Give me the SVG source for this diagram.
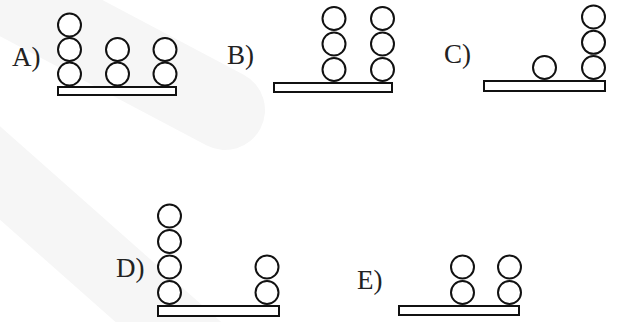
<svg xmlns="http://www.w3.org/2000/svg" width="623" height="322" viewBox="0 0 623 322">
<style>
.ball{fill:#ffffff;stroke:#111;stroke-width:2}
.bar{fill:#ffffff;stroke:#111;stroke-width:2}
.lbl{font-family:"Liberation Serif",serif;font-size:27px;fill:#222}
.wm{fill:none;stroke:#f6f6f6;stroke-linecap:round}
</style>
<rect width="623" height="322" fill="#ffffff"/>
<g id="watermark">
<line class="wm" x1="-40" y1="-30" x2="225" y2="110" stroke-width="80"/>
<line class="wm" x1="-60" y1="120" x2="200" y2="350" stroke-width="70"/>
</g>
<g id="A">
<text class="lbl" x="12" y="66">A)</text>
<rect class="bar" x="58" y="87" width="118" height="8"/>
<circle class="ball" cx="69.5" cy="25" r="11.5"/>
<circle class="ball" cx="69.5" cy="49.5" r="11.5"/>
<circle class="ball" cx="69.5" cy="74" r="11.5"/>
<circle class="ball" cx="117.5" cy="49.5" r="11.5"/>
<circle class="ball" cx="117.5" cy="74" r="11.5"/>
<circle class="ball" cx="165" cy="49.5" r="11.5"/>
<circle class="ball" cx="165" cy="74" r="11.5"/>
</g>
<g id="B">
<text class="lbl" x="227" y="64">B)</text>
<rect class="bar" x="274" y="83" width="118" height="9"/>
<circle class="ball" cx="334" cy="18.5" r="11.5"/>
<circle class="ball" cx="334" cy="44" r="11.5"/>
<circle class="ball" cx="334" cy="69.5" r="11.5"/>
<circle class="ball" cx="382.5" cy="18.5" r="11.5"/>
<circle class="ball" cx="382.5" cy="44" r="11.5"/>
<circle class="ball" cx="382.5" cy="69.5" r="11.5"/>
</g>
<g id="C">
<text class="lbl" x="444" y="63">C)</text>
<rect class="bar" x="484" y="81" width="121" height="10"/>
<circle class="ball" cx="544.5" cy="67.5" r="11.5"/>
<circle class="ball" cx="593.5" cy="17" r="11.5"/>
<circle class="ball" cx="593.5" cy="42.3" r="11.5"/>
<circle class="ball" cx="593.5" cy="67.5" r="11.5"/>
</g>
<g id="D">
<text class="lbl" x="116" y="277">D)</text>
<rect class="bar" x="158" y="306" width="121" height="10"/>
<circle class="ball" cx="169.5" cy="216" r="11.5"/>
<circle class="ball" cx="169.5" cy="241.5" r="11.5"/>
<circle class="ball" cx="169.5" cy="267" r="11.5"/>
<circle class="ball" cx="169.5" cy="292.5" r="11.5"/>
<circle class="ball" cx="267" cy="267" r="11.5"/>
<circle class="ball" cx="267" cy="292.5" r="11.5"/>
</g>
<g id="E">
<text class="lbl" x="357" y="289">E)</text>
<rect class="bar" x="399" y="306" width="120" height="9"/>
<circle class="ball" cx="462.5" cy="267" r="11.5"/>
<circle class="ball" cx="462.5" cy="292.5" r="11.5"/>
<circle class="ball" cx="509.5" cy="267" r="11.5"/>
<circle class="ball" cx="509.5" cy="292.5" r="11.5"/>
</g>
<g id="connectors"/>
</svg>
